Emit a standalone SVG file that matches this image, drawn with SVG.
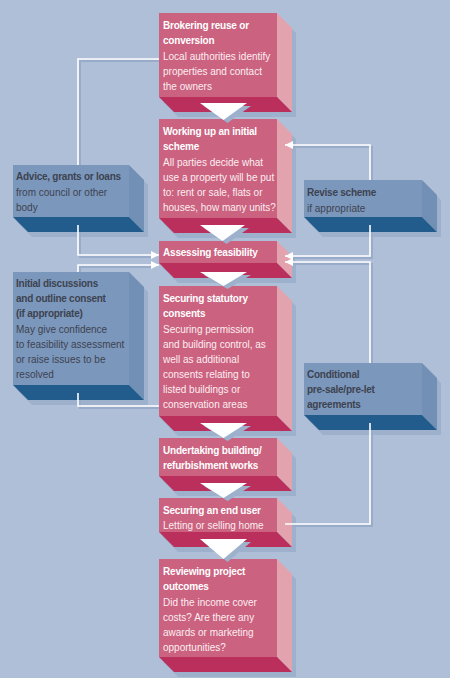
<svg xmlns="http://www.w3.org/2000/svg" width="450" height="678" viewBox="0 0 450 678">
<defs>
<style>
.bg{fill:#afbfd7}
.sh{fill:#9db0cc}
.pf{fill:#cb6280}
.ps{fill:#e2a3ae}
.pb{fill:#bb2f5d}
.bf{fill:#7c97bc}
.bs{fill:#7290b6}
.bb{fill:#215c8c}
text{font-family:"Liberation Sans",Arial,sans-serif;font-size:10px}
.pt{fill:#ffffff;font-weight:bold;font-size:10px;letter-spacing:-0.2px}
.pd{fill:#fbeef1}
.bt{fill:#3c4350;font-weight:bold;font-size:10px;letter-spacing:-0.25px}
.bd{fill:#3c4350}
.ln{fill:none;stroke:#ffffff;stroke-width:1.6}
.lns{fill:none;stroke:#98abc8;stroke-width:2}
.tri{fill:#ffffff}
.tris{fill:#9db0cc}
</style>
<marker id="ah" markerUnits="userSpaceOnUse" markerWidth="10" markerHeight="10" refX="8" refY="4" orient="auto">
<path d="M0,0 L8,4 L0,8 Z" fill="#ffffff"/>
</marker>
</defs>
<rect class="bg" x="0" y="0" width="450" height="678"/>

<g id="shadows">
<polygon class="sh" points="163,18 281,18 296,33 296,117 178,117 163,102"/>
<polygon class="sh" points="163,124 281,124 296,139 296,238 178,238 163,223"/>
<polygon class="sh" points="163,246 281,246 296,261 296,283 178,283 163,268"/>
<polygon class="sh" points="163,291 281,291 296,306 296,436 178,436 163,421"/>
<polygon class="sh" points="163,443 281,443 296,458 296,496 178,496 163,481"/>
<polygon class="sh" points="163,503 281,503 296,518 296,552 178,552 163,537"/>
<polygon class="sh" points="163,564 281,564 296,579 296,677 178,677 163,662"/>
<polygon class="sh" points="17,170 133,170 148,185 148,237 32,237 17,222"/>
<polygon class="sh" points="17,277 133,277 148,292 148,405 32,405 17,390"/>
<polygon class="sh" points="308,185 426,185 441,200 441,237 323,237 308,222"/>
<polygon class="sh" points="308,368 426,368 441,383 441,435 323,435 308,420"/>
</g>

<g id="connectors">
<path class="lns" d="M159,61 H80 V165"/>
<path class="lns" d="M80,227 V257 H152"/>
<path class="lns" d="M80,272 V267 H152"/>
<path class="lns" d="M80,395 V408 H159"/>
<path class="lns" d="M372,180 V147 H292"/>
<path class="lns" d="M372,227 V258 H292"/>
<path class="lns" d="M372,363 V264 H292"/>
<path class="lns" d="M372,425 V526 H285"/>
</g>

<g id="box1">
<rect class="pf" x="159" y="13" width="118" height="84"/>
<polygon class="ps" points="277,13 292,28 292,112 277,97"/>
<polygon class="pb" points="159,97 277,97 292,112 174,112"/>
<text class="pt" x="163" y="29">Brokering reuse or</text>
<text class="pt" x="163" y="44">conversion</text>
<text class="pd" x="163" y="59.5">Local authorities identify</text>
<text class="pd" x="163" y="74.5">properties and contact</text>
<text class="pd" x="163" y="89.5">the owners</text>
</g>

<g id="box2">
<rect class="pf" x="159" y="119" width="118" height="99"/>
<polygon class="ps" points="277,119 292,134 292,233 277,218"/>
<polygon class="pb" points="159,218 277,218 292,233 174,233"/>
<text class="pt" x="163" y="135">Working up an initial</text>
<text class="pt" x="163" y="150">scheme</text>
<text class="pd" x="163" y="165.5">All parties decide what</text>
<text class="pd" x="163" y="180.5">use a property will be put</text>
<text class="pd" x="163" y="195.5">to: rent or sale, flats or</text>
<text class="pd" x="163" y="210.5">houses, how many units?</text>
</g>

<g id="box3">
<rect class="pf" x="159" y="241" width="118" height="22"/>
<polygon class="ps" points="277,241 292,256 292,278 277,263"/>
<polygon class="pb" points="159,263 277,263 292,278 174,278"/>
<text class="pt" x="163" y="256">Assessing feasibility</text>
</g>

<g id="box4">
<rect class="pf" x="159" y="286" width="118" height="130"/>
<polygon class="ps" points="277,286 292,301 292,431 277,416"/>
<polygon class="pb" points="159,416 277,416 292,431 174,431"/>
<text class="pt" x="163" y="302">Securing statutory</text>
<text class="pt" x="163" y="317">consents</text>
<text class="pd" x="163" y="332.5">Securing permission</text>
<text class="pd" x="163" y="347.5">and building control, as</text>
<text class="pd" x="163" y="362.5">well as additional</text>
<text class="pd" x="163" y="377.5">consents relating to</text>
<text class="pd" x="163" y="392.5">listed buildings or</text>
<text class="pd" x="163" y="407.5">conservation areas</text>
</g>

<g id="box5">
<rect class="pf" x="159" y="438" width="118" height="38"/>
<polygon class="ps" points="277,438 292,453 292,491 277,476"/>
<polygon class="pb" points="159,476 277,476 292,491 174,491"/>
<text class="pt" x="163" y="454">Undertaking building/</text>
<text class="pt" x="163" y="469">refurbishment works</text>
</g>

<g id="box6">
<rect class="pf" x="159" y="498" width="118" height="34"/>
<polygon class="ps" points="277,498 292,513 292,547 277,532"/>
<polygon class="pb" points="159,532 277,532 292,547 174,547"/>
<text class="pt" x="163" y="514">Securing an end user</text>
<text class="pd" x="163" y="529">Letting or selling home</text>
</g>

<g id="box7">
<rect class="pf" x="159" y="559" width="118" height="98"/>
<polygon class="ps" points="277,559 292,574 292,672 277,657"/>
<polygon class="pb" points="159,657 277,657 292,672 174,672"/>
<text class="pt" x="163" y="575">Reviewing project</text>
<text class="pt" x="163" y="590">outcomes</text>
<text class="pd" x="163" y="605.5">Did the income cover</text>
<text class="pd" x="163" y="620.5">costs? Are there any</text>
<text class="pd" x="163" y="635.5">awards or marketing</text>
<text class="pd" x="163" y="650.5">opportunities?</text>
</g>

<g id="advice">
<rect class="bf" x="13" y="165" width="116" height="52"/>
<polygon class="bs" points="129,165 144,180 144,232 129,217"/>
<polygon class="bb" points="13,217 129,217 144,232 28,232"/>
<text class="bt" x="16" y="180">Advice, grants or loans</text>
<text class="bd" x="16" y="195.5">from council or other</text>
<text class="bd" x="16" y="210.5">body</text>
</g>

<g id="initial">
<rect class="bf" x="13" y="272" width="116" height="113"/>
<polygon class="bs" points="129,272 144,287 144,400 129,385"/>
<polygon class="bb" points="13,385 129,385 144,400 28,400"/>
<text class="bt" x="16" y="287">Initial discussions</text>
<text class="bt" x="16" y="302">and outline consent</text>
<text class="bt" x="16" y="317">(if appropriate)</text>
<text class="bd" x="16" y="332.5">May give confidence</text>
<text class="bd" x="16" y="347.5">to feasibility assessment</text>
<text class="bd" x="16" y="362.5">or raise issues to be</text>
<text class="bd" x="16" y="377.5">resolved</text>
</g>

<g id="revise">
<rect class="bf" x="304" y="180" width="118" height="37"/>
<polygon class="bs" points="422,180 437,195 437,232 422,217"/>
<polygon class="bb" points="304,217 422,217 437,232 319,232"/>
<text class="bt" x="307" y="196">Revise scheme</text>
<text class="bd" x="307" y="211.5">if appropriate</text>
</g>

<g id="conditional">
<rect class="bf" x="304" y="363" width="118" height="52"/>
<polygon class="bs" points="422,363 437,378 437,430 422,415"/>
<polygon class="bb" points="304,415 422,415 437,430 319,430"/>
<text class="bt" x="307" y="378">Conditional</text>
<text class="bt" x="307" y="393">pre-sale/pre-let</text>
<text class="bt" x="307" y="408">agreements</text>
</g>

<g id="flow">
<path class="ln" d="M159,59 H78 V165"/>
<path class="ln" d="M78,225 V255 H159" marker-end="url(#ah)"/>
<path class="ln" d="M78,272 V265 H159" marker-end="url(#ah)"/>
<path class="ln" d="M78,393 V406 H159"/>
<path class="ln" d="M370,180 V145 H285" marker-end="url(#ah)"/>
<path class="ln" d="M370,225 V256 H285" marker-end="url(#ah)"/>
<path class="ln" d="M370,363 V262 H285" marker-end="url(#ah)"/>
<path class="ln" d="M370,423 V524 H285"/>
<polygon class="tris" points="204,106 251,106 227.5,123"/>
<polygon class="tri" points="200,103 247,103 223.5,120"/>
<polygon class="tris" points="204,228 249,228 226.5,244"/>
<polygon class="tri" points="200,225 245,225 222.5,241"/>
<polygon class="tris" points="204,275 251,275 227.5,289"/>
<polygon class="tri" points="200,272 247,272 223.5,286"/>
<polygon class="tris" points="204,426 251,426 227.5,441"/>
<polygon class="tri" points="200,423 247,423 223.5,438"/>
<polygon class="tris" points="204,486 251,486 227.5,501"/>
<polygon class="tri" points="200,483 247,483 223.5,498"/>
<polygon class="tris" points="204,542 251,542 227.5,562"/>
<polygon class="tri" points="200,539 247,539 223.5,559"/>
</g>
</svg>
